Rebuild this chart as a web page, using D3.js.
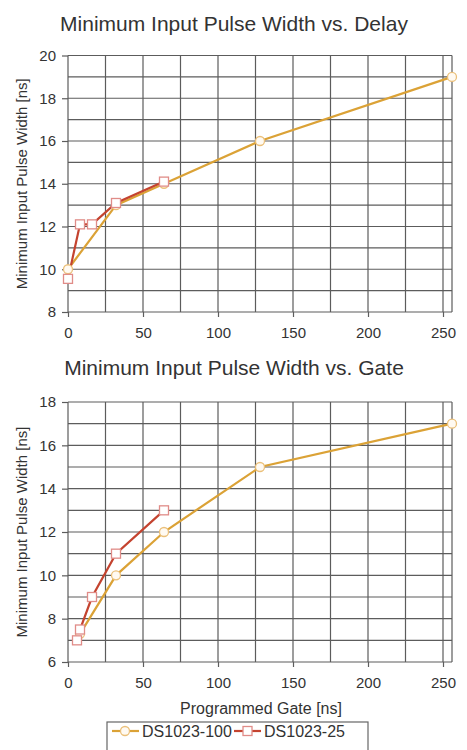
<!DOCTYPE html>
<html>
<head>
<meta charset="utf-8">
<script src="https://cdn.jsdelivr.net/npm/d3@7"></script>
<style>
  body { margin: 0; background: #fff; }
  svg text { font-family: Arial, "Liberation Sans", sans-serif; fill: #333; }
</style>
</head>
<body>
<div id="chart"></div>
<script>
// Data
const delayX100 = [0, 32, 64, 128, 256];
const delayY100 = [10, 13, 14, 16, 19];
const delayX25 = [0, 8, 16, 32, 64];
const delayY25 = [9.55, 12.1, 12.1, 13.1, 14.1];

const gateX100 = [8, 32, 64, 128, 256];
const gateY100 = [7.3, 10, 12, 15, 17];
const gateX25 = [6, 8, 16, 32, 64];
const gateY25 = [7, 7.5, 9, 11, 13];

const xTicks = [0, 50, 100, 150, 200, 250];
const seriesNames = ['DS1023-100', 'DS1023-25'];

const W = 467, H = 750;
const ORANGE = '#dba236', RED = '#c4432f';
const CIRCLE_STROKE = '#ebc07a', SQUARE_STROKE = '#e08c88';

const svg = d3.select('#chart').append('svg')
  .attr('width', W).attr('height', H);

function zip(xs, ys) { return xs.map((x, i) => ({ x: x, y: ys[i] })); }

// Draw one panel
function panel(opts) {
  const x = d3.scaleLinear().domain([0, 256]).range([68, 452]);
  const y = d3.scaleLinear().domain(opts.yDomain).range([opts.bottom, opts.top]);
  const g = svg.append('g');

  // Title
  svg.append('text')
    .attr('x', 234).attr('y', opts.titleY)
    .attr('text-anchor', 'middle')
    .attr('font-size', 21)
    .text(opts.title);

  // Grid
  const gridColor = '#5c5c5c';
  g.selectAll('.vgrid')
    .data(d3.range(0, 251, 25).concat([256]))
    .enter().append('line')
    .attr('x1', d => x(d)).attr('x2', d => x(d))
    .attr('y1', y.range()[1]).attr('y2', y.range()[0])
    .attr('stroke', gridColor).attr('stroke-width', 1.2);
  g.selectAll('.hgrid')
    .data(d3.range(opts.yDomain[0], opts.yDomain[1] + 1, 1))
    .enter().append('line')
    .attr('x1', x(0)).attr('x2', x(256))
    .attr('y1', d => y(d)).attr('y2', d => y(d))
    .attr('stroke', gridColor).attr('stroke-width', 1.2);

  // Axes
  const yAxis = d3.axisLeft(y)
    .tickValues(d3.range(opts.yDomain[0], opts.yDomain[1] + 1, 2))
    .tickSize(6).tickPadding(6).tickFormat(d3.format('d'));
  const ya = g.append('g').attr('transform', `translate(${x(0)},0)`).call(yAxis);
  const xAxis = d3.axisBottom(x).tickValues(xTicks)
    .tickSize(5).tickPadding(10).tickFormat(d3.format('d'));
  const xa = g.append('g').attr('transform', `translate(0,${opts.bottom})`).call(xAxis);
  [ya, xa].forEach(a => {
    a.select('.domain').remove();
    a.selectAll('line').attr('stroke', gridColor).attr('stroke-width', 1.2);
    a.selectAll('text').attr('font-size', 15).attr('fill', '#333')
      .attr('font-family', 'Arial, "Liberation Sans", sans-serif');
  });

  // Y label
  svg.append('text')
    .attr('transform', `translate(27,${(opts.top + opts.bottom) / 2}) rotate(-90)`)
    .attr('text-anchor', 'middle')
    .attr('font-size', 15)
    .text('Minimum Input Pulse Width [ns]');

  const line = d3.line().x(d => x(d.x)).y(d => y(d.y));
  const s100 = zip(opts.x100, opts.y100);
  const s25 = zip(opts.x25, opts.y25);

  g.append('path').datum(s100).attr('d', line)
    .attr('fill', 'none').attr('stroke', ORANGE).attr('stroke-width', 2.2);
  g.append('path').datum(s25).attr('d', line)
    .attr('fill', 'none').attr('stroke', RED).attr('stroke-width', 2.2);

  g.selectAll('.c').data(s100).enter().append('circle')
    .attr('cx', d => x(d.x)).attr('cy', d => y(d.y)).attr('r', 4.5)
    .attr('fill', '#fffaf2').attr('stroke', CIRCLE_STROKE).attr('stroke-width', 1.3);
  g.selectAll('.s').data(s25).enter().append('rect')
    .attr('x', d => x(d.x) - 4.5).attr('y', d => y(d.y) - 4.5)
    .attr('width', 9).attr('height', 9)
    .attr('fill', '#fff').attr('stroke', SQUARE_STROKE).attr('stroke-width', 1.3);

  return { x: x, y: y };
}

panel({
  title: 'Minimum Input Pulse Width vs. Delay', titleY: 31,
  top: 55.5, bottom: 312, yDomain: [8, 20],
  x100: delayX100, y100: delayY100, x25: delayX25, y25: delayY25
});

panel({
  title: 'Minimum Input Pulse Width vs. Gate', titleY: 375,
  top: 402, bottom: 662, yDomain: [6, 18],
  x100: gateX100, y100: gateY100, x25: gateX25, y25: gateY25
});

// X label (bottom panel)
svg.append('text')
  .attr('x', 261).attr('y', 714)
  .attr('text-anchor', 'middle')
  .attr('font-size', 16)
  .text('Programmed Gate [ns]');

// Legend
const legend = svg.append('g');
legend.append('rect')
  .attr('x', 107).attr('y', 722).attr('width', 261).attr('height', 40)
  .attr('fill', '#fff').attr('stroke', '#666').attr('stroke-width', 1.2);

const legendItems = [
  { name: seriesNames[0], color: ORANGE, marker: 'circle', x0: 112, tx: 142 },
  { name: seriesNames[1], color: RED, marker: 'square', x0: 234, tx: 264 }
];
legendItems.forEach(it => {
  legend.append('line')
    .attr('x1', it.x0).attr('x2', it.x0 + 27)
    .attr('y1', 731).attr('y2', 731)
    .attr('stroke', it.color).attr('stroke-width', 2.2);
  if (it.marker === 'circle') {
    legend.append('circle').attr('cx', it.x0 + 13).attr('cy', 731).attr('r', 4.5)
      .attr('fill', '#fffaf2').attr('stroke', CIRCLE_STROKE).attr('stroke-width', 1.3);
  } else {
    legend.append('rect').attr('x', it.x0 + 9).attr('y', 726.5)
      .attr('width', 9).attr('height', 9)
      .attr('fill', '#fff').attr('stroke', SQUARE_STROKE).attr('stroke-width', 1.3);
  }
  legend.append('text')
    .attr('x', it.tx).attr('y', 737)
    .attr('font-size', 16)
    .text(it.name);
});
</script>
</body>
</html>
